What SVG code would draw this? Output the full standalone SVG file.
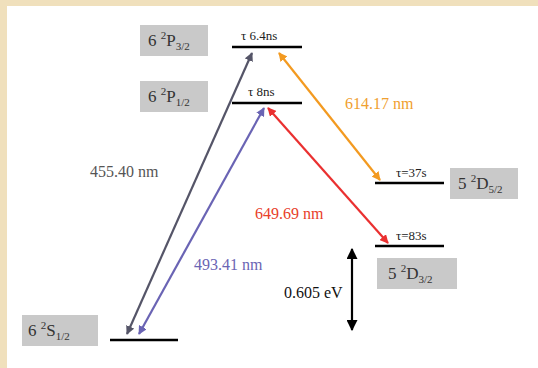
<svg xmlns="http://www.w3.org/2000/svg" width="538" height="368" viewBox="0 0 538 368">
<style>
.lvl{stroke:#000;stroke-width:2.5}
.box{fill:#c9c9c9}
.bt{font-family:"Liberation Serif","Times New Roman",serif;font-size:17px;fill:#333}
.tau{font-family:"Liberation Serif","Times New Roman",serif;font-size:13px;fill:#222}
.lab{font-family:"Liberation Serif","Times New Roman",serif;font-size:16px}
.sm{font-size:11px}
</style>
<defs>
<marker id="hg" viewBox="0 0 10 10" refX="9" refY="5" markerWidth="4" markerHeight="4" orient="auto-start-reverse"><path d="M0,0L10,5L0,10z" fill="#555568"/></marker>
<marker id="hb" viewBox="0 0 10 10" refX="9" refY="5" markerWidth="4" markerHeight="4" orient="auto-start-reverse"><path d="M0,0L10,5L0,10z" fill="#6a64b4"/></marker>
<marker id="hr" viewBox="0 0 10 10" refX="9" refY="5" markerWidth="4" markerHeight="4" orient="auto-start-reverse"><path d="M0,0L10,5L0,10z" fill="#ea3030"/></marker>
<marker id="ho" viewBox="0 0 10 10" refX="9" refY="5" markerWidth="4" markerHeight="4" orient="auto-start-reverse"><path d="M0,0L10,5L0,10z" fill="#f39a20"/></marker>
<marker id="hk" viewBox="0 0 10 10" refX="9" refY="5" markerWidth="5" markerHeight="5" orient="auto-start-reverse"><path d="M0,0L10,5L0,10z" fill="#000"/></marker>
</defs>
<rect x="0" y="0" width="538" height="368" fill="#fff"/>
<rect x="0" y="0" width="538" height="6" fill="#f0e0bc"/>
<rect x="0" y="0" width="7" height="368" fill="#f0e0bc"/>

<g id="n-6P32">
<rect class="box" x="140" y="25" width="68" height="31"/>
<text class="bt" x="148" y="46">6 <tspan class="sm" dy="-7">2</tspan><tspan dy="7">P</tspan><tspan class="sm" dy="4">3/2</tspan></text>
<line class="lvl" x1="232" y1="47" x2="302" y2="47"/>
<text class="tau" x="241" y="40">τ 6.4ns</text>
</g>
<g id="n-6P12">
<rect class="box" x="140" y="81" width="68" height="31"/>
<text class="bt" x="148" y="102">6 <tspan class="sm" dy="-7">2</tspan><tspan dy="7">P</tspan><tspan class="sm" dy="4">1/2</tspan></text>
<line class="lvl" x1="232" y1="103" x2="302" y2="103"/>
<text class="tau" x="248" y="96">τ 8ns</text>
</g>
<g id="n-5D52">
<rect class="box" x="450" y="168" width="68" height="31"/>
<text class="bt" x="458" y="189">5 <tspan class="sm" dy="-7">2</tspan><tspan dy="7">D</tspan><tspan class="sm" dy="4">5/2</tspan></text>
<line class="lvl" x1="375" y1="183" x2="444" y2="183"/>
<text class="tau" x="396" y="177">τ=37s</text>
</g>
<g id="n-5D32">
<rect class="box" x="377" y="258" width="80" height="31"/>
<text class="bt" x="388" y="279">5 <tspan class="sm" dy="-7">2</tspan><tspan dy="7">D</tspan><tspan class="sm" dy="4">3/2</tspan></text>
<line class="lvl" x1="375" y1="246" x2="444" y2="246"/>
<text class="tau" x="396" y="240">τ=83s</text>
</g>
<g id="n-6S12">
<rect class="box" x="22" y="315" width="76" height="31"/>
<text class="bt" x="28" y="336">6 <tspan class="sm" dy="-7">2</tspan><tspan dy="7">S</tspan><tspan class="sm" dy="4">1/2</tspan></text>
<line class="lvl" x1="110" y1="340" x2="178" y2="340"/>
</g>

<g id="connectors" stroke-width="2.2" fill="none">
<line x1="127" y1="334" x2="252" y2="53" stroke="#555568" marker-start="url(#hg)" marker-end="url(#hg)"/>
<line x1="139" y1="334" x2="264" y2="108" stroke="#6a64b4" marker-start="url(#hb)" marker-end="url(#hb)"/>
<line x1="268" y1="108" x2="388" y2="243" stroke="#ea3030" marker-start="url(#hr)" marker-end="url(#hr)"/>
<line x1="279" y1="53" x2="380" y2="180" stroke="#f39a20" marker-start="url(#ho)" marker-end="url(#ho)"/>
<line x1="352" y1="249" x2="352" y2="330" stroke="#000" marker-start="url(#hk)" marker-end="url(#hk)"/>
</g>

<g id="labels">
<text class="lab" x="90" y="177" fill="#555">455.40 nm</text>
<text class="lab" x="194" y="270" fill="#6a64b4">493.41 nm</text>
<text class="lab" x="255" y="219" fill="#e8402a">649.69 nm</text>
<text class="lab" x="345" y="109" fill="#f0a030">614.17 nm</text>
<text class="lab" x="284" y="298" fill="#111">0.605 eV</text>
</g>
</svg>
